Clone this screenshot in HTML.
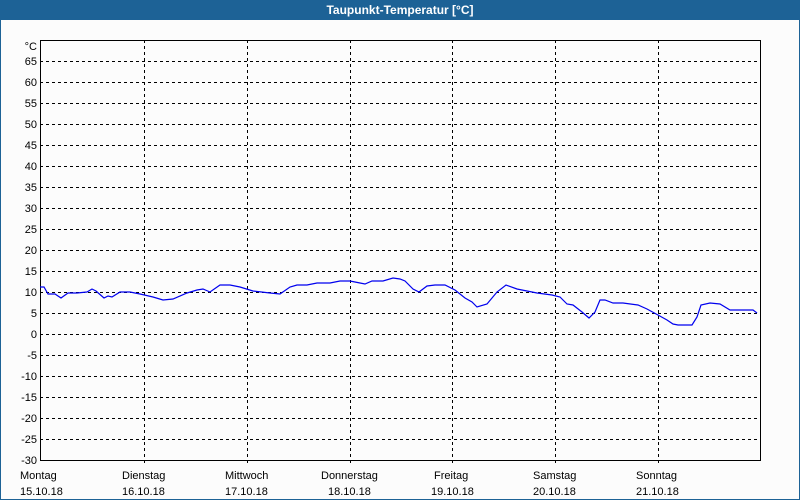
<!DOCTYPE html>
<html><head><style>
html,body{margin:0;padding:0;background:#fcfcfc;}
body{width:800px;height:500px;overflow:hidden;position:relative;font-family:"Liberation Sans",sans-serif;}
</style></head><body>
<svg width="800" height="500" xmlns="http://www.w3.org/2000/svg" style="position:absolute;left:0;top:0">
<rect x="0" y="0" width="800" height="500" fill="#fcfcfc"/>
<rect x="0.5" y="0.5" width="799" height="499" fill="none" stroke="#1d6296" stroke-width="1"/>
<rect x="0" y="0" width="800" height="20" fill="#1d6296"/>
<text x="400" y="14" fill="#fff" font-size="12" font-weight="bold" text-anchor="middle">Taupunkt-Temperatur [°C]</text>
<g stroke="#000" stroke-width="1" stroke-dasharray="3,3" fill="none">
<path d="M40 61.5H760M40 82.5H760M40 103.5H760M40 124.5H760M40 145.5H760M40 166.5H760M40 187.5H760M40 208.5H760M40 229.5H760M40 250.5H760M40 271.5H760M40 292.5H760M40 313.5H760M40 334.5H760M40 355.5H760M40 376.5H760M40 397.5H760M40 418.5H760M40 439.5H760"/>
<path d="M144.5 40V464M247.5 40V464M350.5 40V464M452.5 40V464M555.5 40V464M658.5 40V464"/>
</g>
<rect x="40.5" y="40.5" width="720" height="420" fill="none" stroke="#000" stroke-width="1"/>
<g font-size="11" fill="#000" text-anchor="end">
<text x="37" y="50">°C</text>
<text x="37" y="65">65</text><text x="37" y="86">60</text><text x="37" y="107">55</text><text x="37" y="128">50</text><text x="37" y="149">45</text><text x="37" y="170">40</text><text x="37" y="191">35</text><text x="37" y="212">30</text><text x="37" y="233">25</text><text x="37" y="254">20</text><text x="37" y="275">15</text><text x="37" y="296">10</text><text x="37" y="317">5</text><text x="37" y="338">0</text><text x="37" y="359">-5</text><text x="37" y="380">-10</text><text x="37" y="401">-15</text><text x="37" y="422">-20</text><text x="37" y="443">-25</text><text x="37" y="464">-30</text>
</g>
<g font-size="11" fill="#000">
<text x="20" y="479">Montag</text><text x="20" y="495">15.10.18</text>
<text x="122" y="479">Dienstag</text><text x="122" y="495">16.10.18</text>
<text x="225" y="479">Mittwoch</text><text x="225" y="495">17.10.18</text>
<text x="321" y="479">Donnerstag</text><text x="328" y="495">18.10.18</text>
<text x="434" y="479">Freitag</text><text x="431" y="495">19.10.18</text>
<text x="533" y="479">Samstag</text><text x="533" y="495">20.10.18</text>
<text x="636" y="479">Sonntag</text><text x="636" y="495">21.10.18</text>
</g>
<polyline fill="none" stroke="#0000ee" stroke-width="1.2" points="40,287 44,287 48,294 55,294 61,298 68,293 77,293 87,292 92,289 96,291 104,298 108,296 112,297 120,292 130,292 140,294 153,297 163,300 173,299 187,293 197,290 203,289 210,292 220,285 230,285 240,287 253,291 270,293 280,294 290,287 297,285 307,285 317,283 330,283 340,281 350,281 360,283 365,284 372,281 383,281 393,278 400,279 405,281 413,289 419,292 427,286 435,285 445,285 455,290 465,298 472,302 477,307 487,304 497,292 506,285 517,289 527,291 537,293 552,295 560,297 567,304 573,305 582,312 589,318 595,312 600,300 605,300 613,303 623,303 638,305 647,309 658,315 667,320 673,324 678,325 692,325 697,317 701,305 710,303 720,304 730,310 733,310 753,310 757,313"/>
</svg>
</body></html>
